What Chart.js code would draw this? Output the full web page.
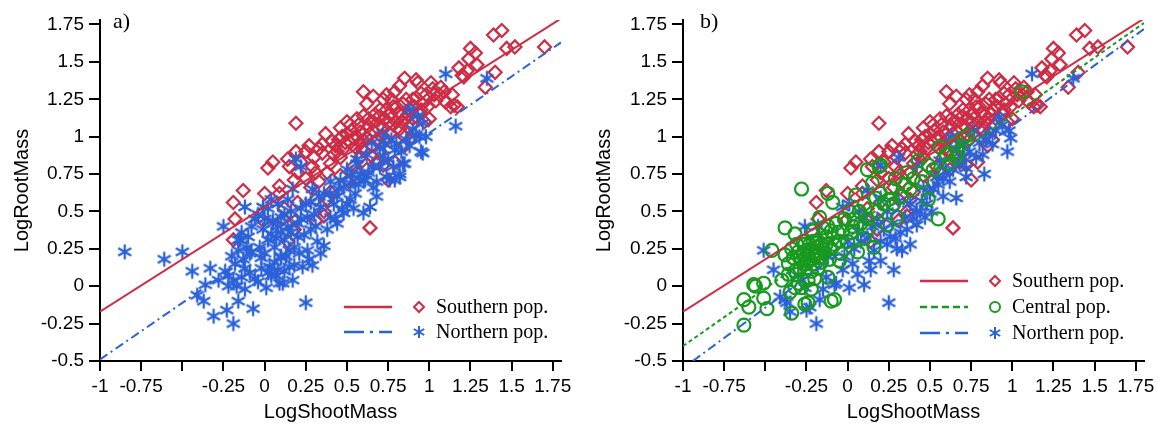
<!DOCTYPE html>
<html>
<head>
<meta charset="utf-8">
<script src="https://cdn.jsdelivr.net/npm/chart.js@4.4.1/dist/chart.umd.min.js"></script>
<style>
  html, body { margin: 0; padding: 0; background: #fff; }
  #wrap { position: relative; width: 1163px; height: 427px; }
  canvas { position: absolute; top: 0; }
  #chartA { left: 0; }
  #chartB { left: 580px; }
</style>
</head>
<body>
<div id="wrap">
  <canvas id="chartA" width="580" height="427"></canvas>
  <canvas id="chartB" width="583" height="427"></canvas>
</div>
<script>
// Axis ticks
const xTicks = [-1, -0.75, -0.5, -0.25, 0, 0.25, 0.5, 0.75, 1, 1.25, 1.5, 1.75];
const xTickLabels = ['-1', '-0.75', '', '-0.25', '0', '0.25', '0.5', '0.75', '1', '1.25', '1.5', '1.75'];
const yTicks = [-0.5, -0.25, 0, 0.25, 0.5, 0.75, 1, 1.25, 1.5, 1.75];
const yTickLabels = ['-0.5', '-0.25', '0', '0.25', '0.5', '0.75', '1', '1.25', '1.5', '1.75'];

// Southern pop. (same in both panels) [LogShootMass, LogRootMass]
const southernPts = [
  [-0.19,0.56],[-0.19,0.31],[-0.18,0.45],[-0.13,0.64],[-0.01,0.44],[0.02,0.79],[0.05,0.83],[0.19,1.09],
  [0.14,0.85],[0.19,0.90],[0.25,0.90],[0.18,0.71],[0.20,0.76],[0.29,0.80],[0.37,1.02],[0.35,0.89],
  [0.38,0.76],[0.43,0.94],[0.46,1.06],[0.50,1.10],[0.52,0.96],[0.56,1.00],[0.62,1.22],[0.60,1.14],
  [0.63,1.07],[0.65,0.94],[0.68,0.83],[0.72,1.25],[0.70,1.18],[0.79,1.30],[0.78,1.20],[0.83,1.14],
  [0.75,1.09],[0.85,1.39],[0.86,1.25],[0.92,1.38],[0.93,1.36],[0.90,1.25],[0.95,1.29],[1.00,1.12],
  [1.01,1.36],[1.02,1.32],[1.07,1.33],[1.13,1.20],[1.17,1.20],[1.18,1.46],[1.20,1.41],[1.23,1.44],
  [1.25,1.59],[1.28,1.56],[1.29,1.48],[1.34,1.33],[1.39,1.68],[1.44,1.71],[1.40,1.43],[1.47,1.59],
  [1.52,1.60],[1.70,1.60],[0.64,0.39],[0.79,0.83],[0.75,0.71],[0.65,0.87],[0.54,0.80],[0.15,0.80],
  [0.00,0.62],[0.09,0.67],[0.20,0.56],[0.11,0.45],[0.31,0.58],[0.36,0.47],[0.18,0.38],
  [0.42,0.88],[0.45,0.98],[0.48,0.92],[0.50,1.02],[0.53,1.04],[0.55,0.93],[0.57,1.08],[0.58,0.96],
  [0.60,1.02],[0.61,0.90],[0.63,1.12],[0.66,1.04],[0.67,1.15],[0.68,0.98],[0.70,1.08],[0.71,1.00],
  [0.73,1.12],[0.74,1.18],[0.76,1.02],[0.77,1.25],[0.80,1.10],[0.81,1.16],[0.82,1.05],[0.84,1.22],
  [0.86,1.12],[0.88,1.18],[0.89,1.08],[0.91,1.20],[0.94,1.15],[0.96,1.22],[0.97,1.10],[0.98,1.28],
  [1.04,1.24],[1.06,1.28],[1.09,1.30],[1.10,1.23],[1.14,1.28],[1.15,1.21],[1.21,1.40],[1.24,1.52],
  [0.30,0.86],[0.33,0.92],[0.40,0.82],[0.46,0.86],[0.25,0.72],[0.28,0.66],[0.33,0.70],[0.09,0.62],
  [0.12,0.52],[0.40,0.63],[0.46,0.74],[0.51,0.70],[0.56,0.76],[0.62,0.78],[0.70,0.90],[0.72,0.81],
  [0.85,0.94],[0.88,0.98],[0.84,1.01],[0.38,0.58],[0.60,1.30],[0.66,1.27],[0.74,1.28],[0.82,1.34],
  [0.19,0.44],[0.36,0.50],[0.14,0.30],[0.31,0.44],
  [0.47,1.00],[0.49,0.96],[0.52,1.08],[0.54,0.99],[0.56,1.12],[0.58,1.03],[0.59,0.92],[0.62,0.99],
  [0.64,1.02],[0.66,1.10],[0.69,1.13],[0.72,1.06],[0.74,0.98],[0.76,1.15],[0.78,1.08],[0.80,1.20],
  [0.83,1.10],[0.87,1.15],[0.90,1.12],[0.92,1.26],[0.95,1.18],[0.99,1.20],[1.03,1.28],[0.44,0.90],
  [0.41,0.97],[0.35,0.95],[0.27,0.94],[0.22,0.83],[0.31,0.76],[0.58,0.86]
];

// Northern pop., panel a
const northernPtsA = [
  [-0.85,0.23],[-0.61,0.18],[-0.50,0.23],[-0.44,0.10],[-0.33,0.12],[-0.41,-0.06],[-0.36,0.01],[-0.37,-0.10],
  [-0.31,-0.20],[-0.28,0.04],[-0.23,-0.16],[-0.19,-0.25],[-0.16,-0.10],[-0.07,-0.15],[-0.25,0.40],[-0.12,0.53],
  [-0.22,0.07],[-0.22,0.00],[-0.17,0.00],[-0.14,0.06],[-0.18,0.15],[-0.13,0.18],[-0.09,0.09],[-0.04,0.03],
  [0.01,-0.01],[0.02,0.09],[0.07,0.07],[0.09,0.02],[0.12,0.10],[-0.16,0.24],[-0.11,0.26],[-0.16,0.31],
  [-0.10,0.33],[-0.08,0.23],[-0.03,0.26],[-0.02,0.19],[0.02,0.31],[0.06,0.26],[0.10,0.19],[0.15,0.24],
  [-0.01,0.38],[0.05,0.44],[0.02,0.52],[0.10,0.46],[0.14,0.58],[0.10,0.36],[0.14,0.40],
  [-0.01,0.53],[0.05,0.42],[0.19,0.85],[0.22,0.80],[0.17,0.65],[0.29,0.65],[0.34,0.53],[0.40,0.62],
  [0.46,0.71],[0.50,0.78],[0.56,0.82],[0.60,0.71],[0.66,0.80],[0.72,0.87],[0.74,0.73],[0.82,0.75],
  [0.84,0.82],[0.88,0.94],[0.95,0.90],[0.92,1.01],[0.96,1.09],[0.64,0.53],[0.60,0.49],[0.48,0.49],
  [0.52,0.58],[0.44,0.42],[0.38,0.38],[0.28,0.38],[0.20,0.33],[0.18,0.26],[0.26,0.24],[0.34,0.22],
  [0.12,0.31],[0.10,0.20],[0.03,0.13],[0.15,0.13],[0.23,0.13],[-0.09,0.22],[-0.15,0.31],
  [0.65,0.96],[0.77,0.98],[0.88,1.18],[0.93,1.14],[0.56,0.85],[0.61,0.71],[0.52,0.69],[0.47,0.51],
  [0.43,0.45],[0.36,0.27],[0.29,0.14],[0.18,0.14],[0.11,0.02],[0.04,0.07],
  [1.10,1.42],[1.35,1.39],[1.16,1.07],[0.96,0.89],[0.98,1.00],[0.82,0.73],[0.85,0.82],[0.90,1.16],
  [0.76,0.71],[0.79,0.91],[0.25,-0.11],[0.68,0.60],[0.79,0.71],
  [0.25,0.55],[0.30,0.48],[0.22,0.45],[0.33,0.60],[0.42,0.55],[0.45,0.65],[0.55,0.62],[0.58,0.75],
  [0.62,0.88],[0.70,0.92],[0.75,0.85],[0.80,0.95],[0.68,0.70],[0.08,0.55],[0.04,0.35],[0.16,0.50],
  [-0.06,0.45],[-0.20,0.20],[-0.24,0.10],[-0.12,-0.02],[0.07,0.32],[0.24,0.34],
  [-0.14,0.36],[-0.08,0.40],[-0.04,0.48],[0.00,0.45],[0.04,0.58],[0.08,0.40],[0.12,0.48],[0.16,0.36],
  [0.20,0.42],[0.22,0.52],[0.26,0.46],[0.28,0.56],[0.31,0.40],[0.32,0.30],[0.27,0.18],[0.21,0.22],
  [0.13,0.20],[0.06,0.16],[-0.02,0.12],[-0.06,0.05],[0.00,0.22],[-0.12,0.12],[-0.19,0.04],[0.17,0.04],
  [0.08,0.11],[0.36,0.62],[0.40,0.70],[0.44,0.60],[0.48,0.66],[0.50,0.55],[0.53,0.74],[0.57,0.68],
  [0.63,0.76],[0.66,0.66],[0.70,0.80],[0.73,0.95],[0.78,0.80],[0.83,0.90],[0.86,0.98],[0.90,1.05],
  [0.94,1.00],[0.72,1.02],[0.40,0.46],[0.54,0.52]
];

// Northern pop., panel b
const northernPtsB = [
  [-0.51,0.24],[-0.45,0.11],[-0.38,-0.09],[-0.35,-0.17],[-0.26,0.40],[-0.19,-0.25],[-0.23,-0.14],[-0.17,-0.09],
  [-0.26,-0.01],[-0.13,0.06],[-0.08,0.01],[-0.03,0.11],[0.01,-0.01],[0.06,0.08],[0.10,0.01],[0.14,0.11],
  [0.13,0.17],[0.20,0.17],[0.25,-0.11],[0.28,0.11],[0.33,0.24],[0.38,0.28],[0.29,0.32],[0.24,0.28],
  [0.20,0.30],[0.01,0.55],[0.06,0.37],[0.10,0.46],[0.20,0.59],[0.24,0.50],[0.31,0.57],[0.35,0.46],
  [0.42,0.41],[0.47,0.46],[0.42,0.50],[0.51,0.50],[0.45,0.57],[0.20,0.81],[0.31,0.86],[0.42,0.81],
  [0.54,0.73],[0.56,0.84],[0.66,0.59],[0.72,0.73],[0.83,0.75],[0.82,0.88],[0.88,0.95],[0.97,0.90],
  [0.99,0.99],[0.98,1.04],[0.92,1.13],[0.76,1.04],[0.70,0.95],[0.63,1.00],[1.12,1.42],[1.37,1.39],
  [0.72,0.79],[0.60,0.77],
  [-0.41,-0.07],[-0.37,-0.11],[-0.25,-0.16],[-0.18,0.40],[-0.03,0.53],[-0.15,-0.02],[-0.07,0.02],[0.03,0.15],
  [-0.30,0.07],[-0.12,0.20],[0.08,0.30],[0.15,0.40],[0.27,0.42],[0.36,0.38],[0.30,0.25],[0.16,0.24],
  [0.38,0.55],[0.50,0.62],[0.55,0.68],[0.62,0.70],[0.68,0.82],[0.78,0.86],[0.86,1.02],[0.80,0.96],
  [0.94,1.08],[0.66,0.92],[0.58,0.60],[0.46,0.66],[0.12,0.64],[0.07,0.50],
  [0.00,0.30],[0.04,0.25],[0.12,0.32],[0.18,0.45],[0.22,0.38],[0.26,0.33],[0.32,0.36],[0.40,0.45],
  [0.44,0.50],[0.48,0.55],[0.52,0.65],[0.58,0.72],[0.64,0.78],[0.70,0.86],[0.74,0.90],[0.84,0.98],
  [0.90,1.04],[-0.02,0.20]
];

// Central pop., panel b
const centralPtsB = [
  [-0.63,-0.26],[-0.63,-0.09],[-0.60,-0.14],[-0.51,-0.08],[-0.49,-0.15],[-0.57,0.01],[-0.51,0.02],[-0.46,0.24],
  [-0.38,0.39],[-0.32,0.35],[-0.28,0.65],[-0.34,-0.18],[-0.35,-0.04],[-0.32,-0.01],[-0.28,-0.01],[-0.24,-0.11],
  [-0.24,0.04],[-0.38,0.21],[-0.36,0.15],[-0.33,0.19],[-0.30,0.23],[-0.28,0.17],[-0.26,0.28],[-0.24,0.21],
  [-0.21,0.15],[-0.19,0.26],[-0.17,0.19],[-0.26,0.10],[-0.32,0.10],[-0.21,0.37],[-0.17,0.46],[-0.15,0.39],
  [-0.12,0.62],[-0.09,0.56],[-0.10,0.37],[-0.08,0.28],[-0.05,0.17],[-0.08,-0.09],[-0.12,0.06],[-0.03,0.37],
  [0.01,0.50],[0.05,0.61],[0.07,0.50],[0.12,0.78],[0.15,0.69],[0.17,0.59],[0.20,0.81],[0.13,0.39],
  [0.16,0.26],[0.22,0.55],[0.26,0.66],[0.29,0.72],[0.35,0.68],[0.40,0.72],[0.43,0.84],[0.49,0.81],
  [0.49,0.58],[0.55,0.45],[0.56,0.93],[0.60,0.88],[0.67,0.90],[0.70,0.99],[0.73,1.01],[1.06,1.30],
  [0.30,0.46],[0.24,0.41],[0.10,0.32],[0.06,0.23],
  [-0.29,0.12],[-0.27,0.22],[-0.25,0.15],[-0.23,0.28],[-0.22,0.10],[-0.20,0.20],[-0.18,0.12],[-0.16,0.28],
  [-0.14,0.22],[-0.13,0.33],[-0.11,0.18],[-0.07,0.42],[-0.05,0.30],[-0.02,0.45],[0.03,0.40],[0.08,0.42],
  [0.10,0.55],[0.18,0.50],[0.25,0.58],[0.33,0.60],[0.38,0.65],[0.45,0.70],[0.52,0.78],[0.62,0.82],
  [0.65,0.95],[-0.40,0.04],[-0.31,0.08],[-0.56,0.00],[-0.10,-0.10],[-0.26,-0.12],[0.19,0.80],[0.66,0.86],
  [-0.34,0.25],[-0.31,0.28],[-0.29,0.20],[-0.27,0.30],[-0.26,0.18],[-0.25,0.24],[-0.23,0.18],[-0.22,0.25],
  [-0.21,0.30],[-0.19,0.22],[-0.18,0.30],[-0.16,0.16],[-0.15,0.25],[-0.13,0.28],[-0.12,0.40],[-0.10,0.25],
  [-0.09,0.32],[-0.06,0.36],[-0.04,0.22],[0.00,0.30],[0.02,0.36],[0.04,0.45],[-0.30,0.02],[-0.20,0.05],
  [-0.36,0.08],[-0.22,-0.02],[0.12,0.45],[0.20,0.62],[0.28,0.55],[0.36,0.76]
];

// Fitted lines, end points
const southernFit = [[-1, -0.17], [1.8, 1.79]];
const northernFitA = [[-1, -0.49], [1.8, 1.63]];
const centralFitB = [[-1, -0.40], [1.8, 1.76]];
const northernFitB = [[-0.94, -0.50], [1.8, 1.72]];

const RED = '#cf2c45';
const BLUE = '#2b62d9';
const GREEN = '#18991f';

const toPts = arr => arr.map(p => ({ x: p[0], y: p[1] }));

// six-armed asterisk used for Northern pop.
function makeStar(color, r, lw) {
  const c = document.createElement('canvas');
  const s = Math.ceil(2 * r + lw + 2);
  c.width = s; c.height = s;
  const g = c.getContext('2d');
  g.strokeStyle = color;
  g.lineWidth = lw;
  const m = s / 2;
  [90, 30, -30].forEach(a => {
    const rad = a * Math.PI / 180;
    g.beginPath();
    g.moveTo(m - r * Math.cos(rad), m - r * Math.sin(rad));
    g.lineTo(m + r * Math.cos(rad), m + r * Math.sin(rad));
    g.stroke();
  });
  return c;
}
const starBig = makeStar(BLUE, 7.5, 2.3);

function fitLine(arr, color, dash) {
  return {
    type: 'line', data: toPts(arr), borderColor: color, borderWidth: 2,
    borderDash: dash, pointRadius: 0, fill: false, tension: 0
  };
}
function diamonds(arr) {
  return { data: toPts(arr), pointStyle: 'rectRot', pointRadius: 6.5, borderColor: RED,
           backgroundColor: 'rgba(0,0,0,0)', borderWidth: 2.2 };
}
function stars(arr) {
  return { data: toPts(arr), pointStyle: starBig, pointRadius: 7 };
}
function circles(arr) {
  return { data: toPts(arr), pointStyle: 'circle', pointRadius: 6.5, borderColor: GREEN,
           backgroundColor: 'rgba(0,0,0,0)', borderWidth: 2.2 };
}

const tickFont = { family: '"Liberation Sans", Arial, sans-serif', size: 19 };
const titleFont = { family: '"Liberation Sans", Arial, sans-serif', size: 20 };

function makeScales(yWidth, yTitlePad) {
  return {
    x: {
      type: 'linear', min: -1, max: 1.8,
      afterBuildTicks: s => { s.ticks = xTicks.map(v => ({ value: v })); },
      afterFit: s => { s.height = 66; },
      ticks: { color: '#000', font: tickFont, padding: 4, maxRotation: 0, autoSkip: false,
               callback: (v, i) => xTickLabels[i] },
      grid: { drawOnChartArea: false, tickLength: 10, color: '#000', lineWidth: 2 },
      border: { color: '#000', width: 2 },
      title: { display: true, text: 'LogShootMass', color: '#000', font: titleFont,
               padding: { top: 0, bottom: 3 } }
    },
    y: {
      type: 'linear', min: -0.5, max: 1.78,
      afterBuildTicks: s => { s.ticks = yTicks.map(v => ({ value: v })); },
      afterFit: s => { s.width = yWidth; },
      ticks: { color: '#000', font: tickFont, padding: 5, autoSkip: false,
               callback: (v, i) => yTickLabels[i] },
      grid: { drawOnChartArea: false, tickLength: 11, color: '#000', lineWidth: 2 },
      border: { color: '#000', width: 2 },
      title: { display: true, text: 'LogRootMass', color: '#000', font: titleFont,
               padding: { top: yTitlePad, bottom: 0 } }
    }
  };
}

// legend and panel letter drawn inside the plot
const legendPlugin = {
  id: 'panelLegend',
  afterDraw(chart, args, opts) {
    const ctx = chart.ctx;
    ctx.save();
    opts.items.forEach((it, i) => {
      const y = opts.y + i * opts.gap;
      ctx.strokeStyle = it.color;
      ctx.lineWidth = 2.5;
      ctx.setLineDash(it.dash);
      ctx.beginPath();
      ctx.moveTo(opts.x, y);
      ctx.lineTo(opts.x + 48, y);
      ctx.stroke();
      ctx.setLineDash([]);
      const mx = opts.x + 75;
      ctx.lineWidth = 2;
      ctx.beginPath();
      if (it.marker === 'diamond') {
        ctx.moveTo(mx, y - 5); ctx.lineTo(mx + 5, y); ctx.lineTo(mx, y + 5); ctx.lineTo(mx - 5, y);
        ctx.closePath();
      } else if (it.marker === 'circle') {
        ctx.arc(mx, y, 5, 0, Math.PI * 2);
      } else {
        [90, 30, -30].forEach(a => {
          const r = a * Math.PI / 180;
          ctx.moveTo(mx - 6 * Math.cos(r), y - 6 * Math.sin(r));
          ctx.lineTo(mx + 6 * Math.cos(r), y + 6 * Math.sin(r));
        });
      }
      ctx.stroke();
      ctx.fillStyle = '#000';
      ctx.font = '20px "Liberation Serif", "Times New Roman", serif';
      ctx.textBaseline = 'middle';
      ctx.textAlign = 'left';
      ctx.fillText(it.label, opts.x + 92, y + 1);
    });
    ctx.font = '22px "Liberation Serif", "Times New Roman", serif';
    ctx.fillStyle = '#000';
    ctx.textBaseline = 'middle';
    ctx.fillText(opts.tag, opts.tagX, 22);
    ctx.restore();
  }
};

const baseOptions = {
  responsive: false,
  animation: false,
  events: [],
  plugins: { legend: { display: false }, tooltip: { enabled: false } }
};

new Chart(document.getElementById('chartA'), {
  type: 'scatter',
  data: {
    datasets: [
      fitLine(southernFit, RED, []),
      fitLine(northernFitA, BLUE, [9, 4, 2, 4]),
      stars(northernPtsA),
      diamonds(southernPts)
    ]
  },
  options: {
    ...baseOptions,
    layout: { padding: { top: 20, right: 19, bottom: 0, left: 0 } },
    scales: makeScales(100, 10),
    plugins: {
      ...baseOptions.plugins,
      panelLegend: {
        x: 344, y: 307, gap: 25, tag: 'a)', tagX: 113,
        items: [
          { label: 'Southern pop.', color: RED, dash: [], marker: 'diamond' },
          { label: 'Northern pop.', color: BLUE, dash: [20, 6, 3, 6], marker: 'star' }
        ]
      }
    }
  },
  plugins: [legendPlugin]
});

new Chart(document.getElementById('chartB'), {
  type: 'scatter',
  data: {
    datasets: [
      fitLine(southernFit, RED, []),
      fitLine(centralFitB, GREEN, [4, 3]),
      fitLine(northernFitB, BLUE, [9, 4, 2, 4]),
      circles(centralPtsB),
      stars(northernPtsB),
      diamonds(southernPts)
    ]
  },
  options: {
    ...baseOptions,
    layout: { padding: { top: 20, right: 19, bottom: 0, left: 0 } },
    scales: makeScales(103, 12),
    plugins: {
      ...baseOptions.plugins,
      panelLegend: {
        x: 340, y: 281, gap: 26, tag: 'b)', tagX: 120,
        items: [
          { label: 'Southern pop.', color: RED, dash: [], marker: 'diamond' },
          { label: 'Central pop.', color: GREEN, dash: [7, 4], marker: 'circle' },
          { label: 'Northern pop.', color: BLUE, dash: [20, 6, 3, 6], marker: 'star' }
        ]
      }
    }
  },
  plugins: [legendPlugin]
});
</script>
</body>
</html>
